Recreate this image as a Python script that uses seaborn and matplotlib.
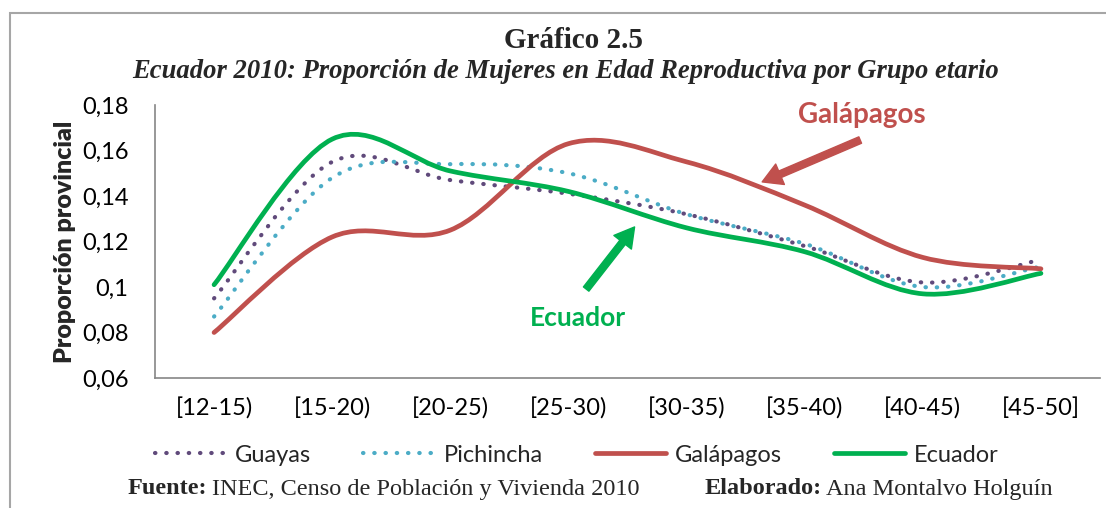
import numpy as np
import pandas as pd
import matplotlib
matplotlib.use('Agg')
import matplotlib.pyplot as plt
from matplotlib.path import Path
from matplotlib.patches import PathPatch, Rectangle
from matplotlib.lines import Line2D
import seaborn as sns

# data
grupos = ['[12-15)', '[15-20)', '[20-25)', '[25-30)', '[30-35)', '[35-40)', '[40-45)', '[45-50]']
guayas = [0.095, 0.155, 0.147, 0.141, 0.132, 0.118, 0.102, 0.112]
pichincha = [0.087, 0.148, 0.154, 0.150, 0.132, 0.119, 0.100, 0.109]
galapagos = [0.080, 0.122, 0.125, 0.163, 0.155, 0.136, 0.113, 0.108]
ecuador = [0.101, 0.165, 0.151, 0.142, 0.126, 0.1155, 0.097, 0.106]
yticks = [0.06, 0.08, 0.10, 0.12, 0.14, 0.16, 0.18]
ytick_labels = ['0,06', '0,08', '0,1', '0,12', '0,14', '0,16', '0,18']

df = pd.DataFrame({'grupo': grupos, 'Guayas': guayas, 'Pichincha': pichincha,
                   'Galápagos': galapagos, 'Ecuador': ecuador})

colors = {'Guayas': '#604A7B', 'Pichincha': '#4BACC6',
          'Galápagos': '#C0504D', 'Ecuador': '#00B050'}
dotted = (0, (0.1, 2.6))

sns.set_theme(style='white')
plt.rcParams['font.family'] = ['Lato', 'DejaVu Sans']
serif = ['Liberation Serif', 'DejaVu Serif']


def smooth_path(xs, ys):
    # excel-like smoothed line (catmull-rom as bezier segments)
    pts = np.column_stack([xs, ys]).astype(float)
    n = len(pts)
    verts = [pts[0]]
    codes = [Path.MOVETO]
    for i in range(n - 1):
        p0 = pts[max(i - 1, 0)]
        p1 = pts[i]
        p2 = pts[i + 1]
        p3 = pts[min(i + 2, n - 1)]
        verts += [p1 + (p2 - p0) / 6, p2 - (p3 - p1) / 6, p2]
        codes += [Path.CURVE4] * 3
    return Path(verts, codes)


fig = plt.figure(figsize=(11.06, 5.08), dpi=100)
ax = fig.add_axes([155 / 1106, 1 - 378 / 508, 945 / 1106, 273 / 508])

x = np.arange(len(grupos))
styles = {'Guayas': (dotted, 3.0), 'Pichincha': (dotted, 3.0),
          'Galápagos': ('-', 3.4), 'Ecuador': ('-', 3.4)}
for name in ['Guayas', 'Pichincha', 'Galápagos', 'Ecuador']:
    ls, lw = styles[name]
    patch = PathPatch(smooth_path(x, df[name].values), fill=False,
                      edgecolor=colors[name], lw=lw, linestyle=ls,
                      capstyle='round', joinstyle='round')
    ax.add_patch(patch)

ax.set_xlim(-0.5, 7.5)
ax.set_ylim(0.06, 0.18)
ax.set_xticks(x)
ax.set_xticklabels(grupos)
ax.set_yticks(yticks)
ax.set_yticklabels(ytick_labels)
ax.tick_params(axis='both', length=0, labelsize=17, colors='black')
ax.tick_params(axis='y', pad=19)
ax.tick_params(axis='x', pad=14)
ax.set_ylabel('Proporción provincial', fontsize=18, fontweight='heavy', labelpad=4)
sns.despine(ax=ax)
for s in ['left', 'bottom']:
    ax.spines[s].set_color('#868686')
    ax.spines[s].set_linewidth(1.2)

# annotations
red = colors['Galápagos']
green = colors['Ecuador']
ax.annotate('', xy=(4.64, 0.1462), xytext=(5.47, 0.1646),
            arrowprops=dict(width=5, headwidth=16, headlength=14, color=red, shrink=0))
ax.text(5.48, 0.1756, 'Galápagos', color=red, fontsize=20, fontweight='bold',
        ha='center', va='center')
ax.annotate('', xy=(3.56, 0.1264), xytext=(3.15, 0.0991),
            arrowprops=dict(width=5, headwidth=16, headlength=14, color=green, shrink=0))
ax.text(3.08, 0.0864, 'Ecuador', color=green, fontsize=19, fontweight='bold',
        ha='center', va='center')

# legend
handles = [Line2D([], [], color=colors[n], lw=styles[n][1], linestyle=styles[n][0],
                  solid_capstyle='round', dash_capstyle='round')
           for n in ['Guayas', 'Pichincha', 'Galápagos', 'Ecuador']]
fig.legend(handles, ['Guayas', 'Pichincha', 'Galápagos', 'Ecuador'], loc='center',
           bbox_to_anchor=(577 / 1106, 1 - 455 / 508), ncol=4, frameon=False,
           fontsize=17, handlelength=3.0, handletextpad=0.4, columnspacing=2.2)

# titles
fig.text(574 / 1106, 1 - 40 / 508, 'Gráfico 2.5', family=serif, fontsize=21,
         fontweight='bold', ha='center', va='center')
fig.text(566 / 1106, 1 - 72 / 508,
         'Ecuador 2010: Proporción de Mujeres en Edad Reproductiva por Grupo etario',
         family=serif, fontsize=19.2, fontweight='bold', style='italic',
         ha='center', va='center')

# footer: bold label followed by plain text
renderer = fig.canvas.get_renderer()
for x0, bold, rest in [(128, 'Fuente:', 'INEC, Censo de Población y Vivienda 2010'),
                       (705, 'Elaborado:', 'Ana Montalvo Holguín')]:
    tb = fig.text(x0 / 1106, 1 - 489 / 508, bold, family=serif, fontsize=17.5,
                  fontweight='bold', ha='left', va='center')
    bb = tb.get_window_extent(renderer)
    fig.text(bb.x1 / 1106 + 4 / 1106, 1 - 489 / 508, rest, family=serif,
             fontsize=17.5, ha='left', va='center')

# outer frame
fig.patches.append(Rectangle((10 / 1106, -0.1), 1.2, 1.1 - 13 / 508, fill=False,
                             edgecolor='#A6A6A6', lw=1.5, transform=fig.transFigure,
                             figure=fig))

fig.savefig('out.png', dpi=100)
